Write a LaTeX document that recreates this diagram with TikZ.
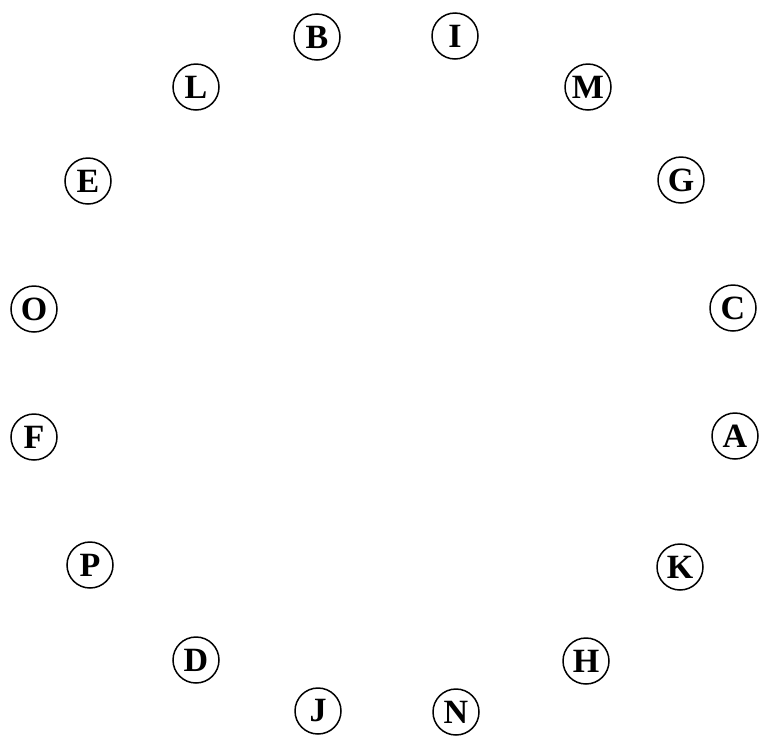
\documentclass[tikz,border=0pt]{standalone}
\usepackage{fontspec}
\setmainfont{Liberation Serif}
\begin{document}
\begin{tikzpicture}[x=1pt,y=-1pt,
  letter/.style={circle,draw,line width=1.5pt,minimum size=46pt,inner sep=0pt,font=\fontsize{34}{34}\selectfont\bfseries}]
\useasboundingbox (0,0) rectangle (773,745);
\node[letter] (B) at (317,37) {B};
\node[letter] (I) at (455,36) {I};
\node[letter] (M) at (588,87) {M};
\node[letter] (G) at (681,180) {G};
\node[letter] (C) at (733,308) {C};
\node[letter] (A) at (735,436) {A};
\node[letter] (K) at (680,567) {K};
\node[letter] (H) at (586,661) {H};
\node[letter] (N) at (456,712) {N};
\node[letter] (J) at (318,711) {J};
\node[letter] (D) at (196,660) {D};
\node[letter] (P) at (90,565) {P};
\node[letter] (F) at (34,437) {F};
\node[letter] (O) at (34,309) {O};
\node[letter] (E) at (88,181) {E};
\node[letter] (L) at (196,87) {L};
\end{tikzpicture}
\end{document}
